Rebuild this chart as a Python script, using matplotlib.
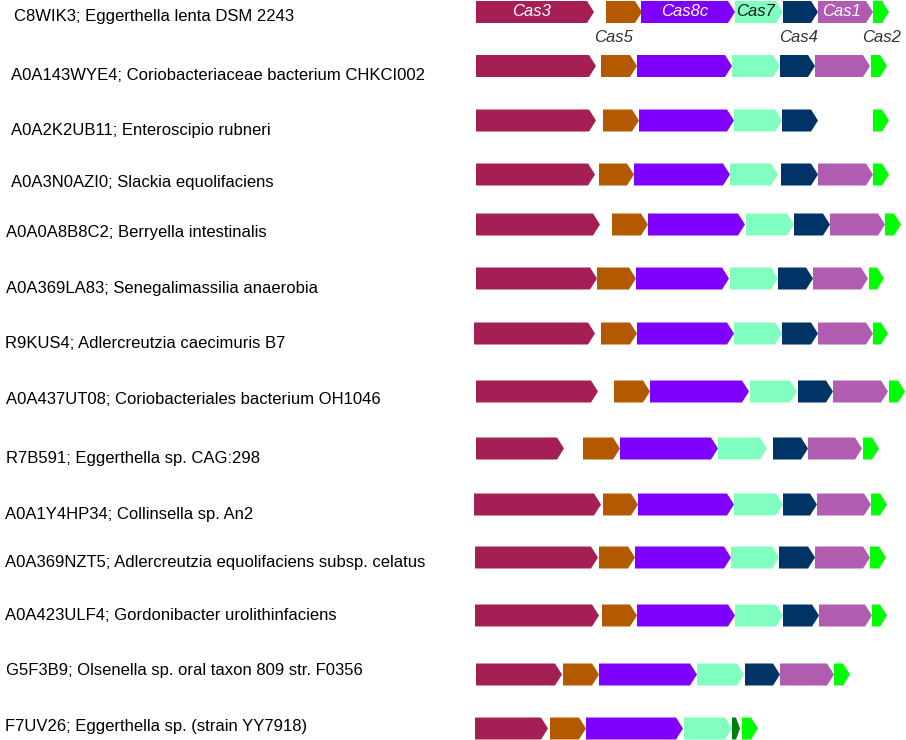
import matplotlib
matplotlib.use("Agg")
import matplotlib.pyplot as plt
from matplotlib.patches import Polygon

plt.rcParams["font.family"] = ["Liberation Sans", "DejaVu Sans"]

# ---- data: locus organisation of each cas operon (start, end along locus) ----
species = [
    "C8WIK3; Eggerthella lenta DSM 2243",
    "A0A143WYE4; Coriobacteriaceae bacterium CHKCI002",
    "A0A2K2UB11; Enteroscipio rubneri",
    "A0A3N0AZI0; Slackia equolifaciens",
    "A0A0A8B8C2; Berryella intestinalis",
    "A0A369LA83; Senegalimassilia anaerobia",
    "R9KUS4; Adlercreutzia caecimuris B7",
    "A0A437UT08; Coriobacteriales bacterium OH1046",
    "R7B591; Eggerthella sp. CAG:298",
    "A0A1Y4HP34; Collinsella sp. An2",
    "A0A369NZT5; Adlercreutzia equolifaciens subsp. celatus",
    "A0A423ULF4; Gordonibacter urolithinfaciens",
    "G5F3B9; Olsenella sp. oral taxon 809 str. F0356",
    "F7UV26; Eggerthella sp. (strain YY7918)",
]

c8wik3 = [("Cas3", 6, 124), ("Cas5", 136, 172), ("Cas8c", 171, 265), ("Cas7", 265, 313),
          ("Cas4", 313, 348), ("Cas1", 348, 403), ("Cas2", 403, 419)]
a0a143wye4 = [("Cas3", 6, 126), ("Cas5", 131, 167), ("Cas8c", 167, 262), ("Cas7", 262, 310),
              ("Cas4", 310, 345), ("Cas1", 345, 400), ("Cas2", 401, 417)]
a0a2k2ub11 = [("Cas3", 6, 126), ("Cas5", 133, 169), ("Cas8c", 169, 264), ("Cas7", 264, 312),
              ("Cas4", 312, 348), ("Cas2", 403, 419)]
a0a3n0azi0 = [("Cas3", 6, 125), ("Cas5", 129, 164), ("Cas8c", 164, 260), ("Cas7", 260, 308),
              ("Cas4", 311, 348), ("Cas1", 348, 403), ("Cas2", 403, 419)]
a0a0a8b8c2 = [("Cas3", 6, 130), ("Cas5", 142, 178), ("Cas8c", 178, 275), ("Cas7", 276, 324),
              ("Cas4", 324, 360), ("Cas1", 360, 415), ("Cas2", 415, 431)]
a0a369la83 = [("Cas3", 6, 127), ("Cas5", 127, 166), ("Cas8c", 166, 259), ("Cas7", 260, 308),
              ("Cas4", 308, 343), ("Cas1", 343, 398), ("Cas2", 399, 414)]
r9kus4 = [("Cas3", 4, 125), ("Cas5", 131, 167), ("Cas8c", 167, 264), ("Cas7", 264, 312),
          ("Cas4", 312, 348), ("Cas1", 348, 403), ("Cas2", 403, 418)]
a0a437ut08 = [("Cas3", 6, 128), ("Cas5", 144, 180), ("Cas8c", 180, 279), ("Cas7", 280, 327),
              ("Cas4", 328, 363), ("Cas1", 363, 418), ("Cas2", 419, 435)]
r7b591 = [("Cas3", 6, 94), ("Cas5", 113, 150), ("Cas8c", 150, 248), ("Cas7", 248, 297),
          ("Cas4", 303, 338), ("Cas1", 338, 392), ("Cas2", 393, 409)]
a0a1y4hp34 = [("Cas3", 4, 131), ("Cas5", 133, 168), ("Cas8c", 168, 264), ("Cas7", 264, 313),
              ("Cas4", 313, 347), ("Cas1", 347, 401), ("Cas2", 401, 417)]
a0a369nzt5 = [("Cas3", 5, 128), ("Cas5", 129, 165), ("Cas8c", 165, 261), ("Cas7", 261, 309),
              ("Cas4", 309, 345), ("Cas1", 345, 400), ("Cas2", 400, 416)]
a0a423ulf4 = [("Cas3", 5, 129), ("Cas5", 132, 167), ("Cas8c", 167, 265), ("Cas7", 265, 313),
              ("Cas4", 313, 349), ("Cas1", 349, 402), ("Cas2", 402, 417)]
g5f3b9 = [("Cas3", 6, 92), ("Cas5", 93, 129), ("Cas8c", 129, 227), ("Cas7", 227, 274),
          ("Cas4", 275, 310), ("Cas1", 310, 364), ("Cas2", 364, 380)]
f7uv26 = [("Cas3", 5, 78), ("Cas5", 80, 116), ("Cas8c", 116, 213), ("Cas7", 214, 262),
          ("orf", 262, 270), ("Cas2", 272, 288)]

loci = [c8wik3, a0a143wye4, a0a2k2ub11, a0a3n0azi0, a0a0a8b8c2, a0a369la83, r9kus4,
        a0a437ut08, r7b591, a0a1y4hp34, a0a369nzt5, a0a423ulf4, g5f3b9, f7uv26]

# ---- styling / layout ----
gene_colors = {
    "Cas3": "#A51F55",
    "Cas5": "#B35A00",
    "Cas8c": "#8000FF",
    "Cas7": "#80FFC0",
    "Cas4": "#003366",
    "Cas1": "#B05CB0",
    "Cas2": "#00FF00",
    "orf": "#007F0E",
}
inside_label_color = {"Cas3": "white", "Cas8c": "white", "Cas1": "white", "Cas7": "#1a1a1a"}
below_labels = {"Cas5": -10, "Cas4": -2, "Cas2": 1}

# vertical placement of each track and its caption (px from top), caption indent (px)
track_y = [12, 66, 120.5, 174.5, 224.5, 278.5, 333.5, 391.5, 448.5, 504.5, 557.5, 615.5,
           674.5, 728.5]
caption_y = [16, 76, 130, 182, 233, 288, 343, 400, 458, 515, 562, 615, 671, 727]
caption_x = [14, 11, 11, 11, 6, 6, 5, 6, 6, 5, 5, 5, 6, 5]

W, H = 906, 740
fig = plt.figure(figsize=(W / 100, H / 100), dpi=100)
ax = fig.add_axes([0, 0, 1, 1])
track_x0 = 470          # left edge of the gene track
ax.set_xlim(-track_x0, W - track_x0)
ax.set_ylim(H, 0)
ax.axis("off")

arrow_h = 22
head_len = 7


def gene_arrow(start, end, y, color):
    hl = min(head_len, (end - start) * 0.5)
    pts = [(start, y - arrow_h / 2), (end - hl, y - arrow_h / 2), (end, y),
           (end - hl, y + arrow_h / 2), (start, y + arrow_h / 2)]
    ax.add_patch(Polygon(pts, closed=True, facecolor=color, edgecolor="none"))


for i, (name, genes) in enumerate(zip(species, loci)):
    for gene, s, e in genes:
        gene_arrow(s, e, track_y[i], gene_colors[gene])
    ax.text(-track_x0 + caption_x[i], caption_y[i], name, fontsize=12,
            color="black", ha="left", va="center")

# gene names on the first (reference) locus
for gene, s, e in loci[0]:
    body_mid = (s + e - head_len) / 2
    if gene in inside_label_color:
        ax.text(body_mid, track_y[0], gene, fontsize=12, style="italic",
                color=inside_label_color[gene], ha="center", va="center")
    elif gene in below_labels:
        ax.text((s + e) / 2 + below_labels[gene], track_y[0] + 25, gene, fontsize=12,
                style="italic", color="#333333", ha="center", va="center")

fig.savefig("out.png", dpi=100)
